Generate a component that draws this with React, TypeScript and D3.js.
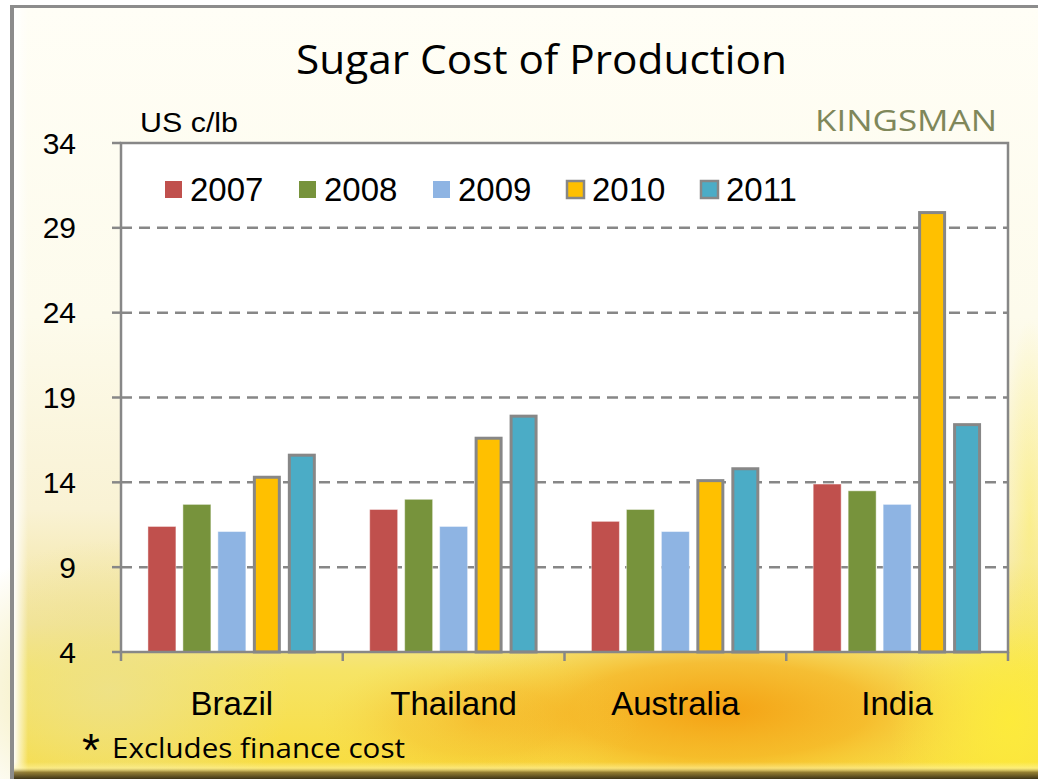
import React from "react";
import * as d3 from "d3";

const categories = ["Brazil", "Thailand", "Australia", "India"];
const years = ["2007", "2008", "2009", "2010", "2011"];
const values2007 = [11.4, 12.4, 11.7, 13.9];
const values2008 = [12.7, 13.0, 12.4, 13.5];
const values2009 = [11.1, 11.4, 11.1, 12.7];
const values2010 = [14.3, 16.6, 14.1, 29.9];
const values2011 = [15.6, 17.9, 14.8, 17.4];
const seriesValues = [values2007, values2008, values2009, values2010, values2011];
const yTicks = [4, 9, 14, 19, 24, 29, 34];

const colors = ["#C0504D", "#77933C", "#8EB4E3", "#FFC000", "#4BACC6"];
const outlined = [false, false, false, true, true];

const W = 1038;
const H = 779;
const plot = { left: 121, right: 1008, top: 143, bottom: 652 };

export default function App() {
  const x = d3.scaleBand<string>().domain(categories).range([plot.left, plot.right]).paddingInner(0).paddingOuter(0);
  const xi = d3
    .scaleBand<string>()
    .domain(years)
    .range([0, x.bandwidth()])
    .paddingInner(0.2)
    .paddingOuter(0.77);
  const y = d3.scaleLinear().domain([4, 34]).range([plot.bottom, plot.top]);

  const gray = "#878787";
  const axisFont = "'Liberation Sans', Arial, sans-serif";

  const boundaries = categories.map((c) => x(c) as number).concat([plot.right]);

  return (
    <svg
      width={W}
      height={H}
      viewBox={`0 0 ${W} ${H}`}
      style={{ position: "absolute", left: 0, top: 0, display: "block" }}
    >
      <defs>
        <linearGradient id="bgv" x1="0" y1="0" x2="0" y2="1">
          <stop offset="0" stopColor="#FFFEF6" />
          <stop offset="0.4" stopColor="#FDFBEC" />
          <stop offset="0.65" stopColor="#F9F2D4" />
          <stop offset="0.8" stopColor="#F3E49C" />
          <stop offset="0.86" stopColor="#F6E466" />
          <stop offset="1" stopColor="#F8DC3C" />
        </linearGradient>
        <radialGradient id="orange" cx="0.5" cy="0.5" r="0.5">
          <stop offset="0" stopColor="#F49E10" stopOpacity="0.95" />
          <stop offset="0.5" stopColor="#F5AE1E" stopOpacity="0.7" />
          <stop offset="1" stopColor="#F8D040" stopOpacity="0" />
        </radialGradient>
        <radialGradient id="paleLeft" cx="0.5" cy="0.5" r="0.5">
          <stop offset="0" stopColor="#EDE18C" stopOpacity="0.85" />
          <stop offset="1" stopColor="#EDE18C" stopOpacity="0" />
        </radialGradient>
        <radialGradient id="brightRight" cx="0.5" cy="0.5" r="0.5">
          <stop offset="0" stopColor="#FDEB3A" stopOpacity="0.95" />
          <stop offset="1" stopColor="#FDEB3A" stopOpacity="0" />
        </radialGradient>
        <linearGradient id="leftBevel" x1="0" y1="0" x2="1" y2="0">
          <stop offset="0" stopColor="#ffffff" stopOpacity="0.95" />
          <stop offset="1" stopColor="#ffffff" stopOpacity="0" />
        </linearGradient>
        <linearGradient id="bottomShadow" x1="0" y1="0" x2="0" y2="1">
          <stop offset="0" stopColor="#FFF6B0" stopOpacity="0" />
          <stop offset="0.35" stopColor="#FFF6B0" stopOpacity="0.5" />
          <stop offset="0.6" stopColor="#8A7430" stopOpacity="0.9" />
          <stop offset="1" stopColor="#3E3418" stopOpacity="1" />
        </linearGradient>
      </defs>

      {/* background */}
      <rect x={0} y={0} width={W} height={H} fill="#ffffff" />
      <rect x={14} y={7} width={W - 14} height={H - 7} fill="url(#bgv)" />
      <ellipse cx={720} cy={710} rx={300} ry={95} fill="url(#orange)" />
      <ellipse cx={480} cy={720} rx={160} ry={70} fill="url(#orange)" opacity={0.45} />
      <ellipse cx={110} cy={690} rx={180} ry={150} fill="url(#paleLeft)" />
      <ellipse cx={1010} cy={720} rx={120} ry={160} fill="url(#brightRight)" />
      <ellipse cx={1030} cy={520} rx={30} ry={200} fill="url(#brightRight)" opacity={0.45} />
      <rect x={14} y={7} width={14} height={H - 7} fill="url(#leftBevel)" />
      <rect x={14} y={762} width={W - 14} height={17} fill="url(#bottomShadow)" />
      {/* frame */}
      <rect x={10} y={5} width={4} height={H - 5} fill="#8C8C8C" />
      <rect x={10} y={5} width={W - 10} height={3} fill="#8C8C8C" />

      {/* title */}
      <text
        x={541.5}
        y={74}
        textAnchor="middle"
        fontFamily="'Open Sans', 'DejaVu Sans', sans-serif"
        fontSize={40}
        textLength={491}
        lengthAdjust="spacingAndGlyphs"
        fill="#000"
      >
        Sugar Cost of Production
      </text>

      {/* KINGSMAN */}
      <text
        x={815}
        y={131}
        fontFamily="'Open Sans', Lato, sans-serif"
        fontSize={29}
        textLength={182}
        lengthAdjust="spacingAndGlyphs"
        fill="#7F875A"
      >
        KINGSMAN
      </text>

      {/* unit */}
      <text x={140} y={132} fontFamily={axisFont} fontSize={27} textLength={98} lengthAdjust="spacingAndGlyphs" fill="#000">
        US c/lb
      </text>

      {/* plot area */}
      <rect x={plot.left} y={plot.top} width={plot.right - plot.left} height={plot.bottom - plot.top} fill="#ffffff" />

      {/* gridlines */}
      {yTicks
        .filter((t) => t !== 4 && t !== 34)
        .map((t) => (
          <line
            key={"g" + t}
            x1={plot.left}
            x2={plot.right}
            y1={y(t)}
            y2={y(t)}
            stroke={gray}
            strokeWidth={2.5}
            strokeDasharray="11 7"
          />
        ))}

      {/* bars */}
      {categories.map((c, ci) => (
        <g key={c} transform={`translate(${x(c)},0)`}>
          {years.map((yr, si) => {
            const v = seriesValues[si][ci];
            const bx = xi(yr) as number;
            const bw = xi.bandwidth();
            const top = y(v);
            return outlined[si] ? (
              <rect
                key={yr}
                x={bx + 1.5}
                y={top}
                width={bw - 3}
                height={plot.bottom - top}
                fill={colors[si]}
                stroke={gray}
                strokeWidth={3}
              />
            ) : (
              <rect
                key={yr}
                x={bx}
                y={top}
                width={bw}
                height={plot.bottom - top}
                fill={colors[si]}
                stroke="#ffffff"
                strokeOpacity={0.45}
                strokeWidth={1}
              />
            );
          })}
        </g>
      ))}

      {/* plot border */}
      <rect
        x={plot.left}
        y={plot.top}
        width={plot.right - plot.left}
        height={plot.bottom - plot.top}
        fill="none"
        stroke={gray}
        strokeWidth={2.5}
      />

      {/* y ticks */}
      {yTicks.map((t) => (
        <g key={"t" + t}>
          <line x1={112} x2={plot.left} y1={y(t)} y2={y(t)} stroke={gray} strokeWidth={2.5} />
          <text
            x={76}
            y={y(t)}
            dy="0.35em"
            textAnchor="end"
            fontFamily={axisFont}
            fontSize={30}
            fill="#000"
          >
            {t}
          </text>
        </g>
      ))}

      {/* x ticks */}
      {boundaries.map((bx, i) => (
        <line key={"xt" + i} x1={bx} x2={bx} y1={plot.bottom} y2={plot.bottom + 9} stroke={gray} strokeWidth={2.5} />
      ))}
      {categories.map((c) => (
        <text
          key={"l" + c}
          x={(x(c) as number) + x.bandwidth() / 2}
          y={715}
          textAnchor="middle"
          fontFamily={axisFont}
          fontSize={33}
          fill="#000"
        >
          {c}
        </text>
      ))}

      {/* legend */}
      {years.map((yr, i) => {
        const lx = 165 + i * 134;
        return (
          <g key={"lg" + yr}>
            <rect
              x={lx}
              y={181}
              width={17}
              height={17}
              fill={colors[i]}
              stroke={outlined[i] ? gray : "none"}
              strokeWidth={outlined[i] ? 2.5 : 0}
            />
            <text x={lx + 25} y={200.5} fontFamily={axisFont} fontSize={33} fill="#000">
              {yr}
            </text>
          </g>
        );
      })}

      {/* footnote */}
      <text x={82} y={766} fontFamily={axisFont} fontSize={46} fill="#000">
        *
      </text>
      <text
        x={112}
        y={758}
        fontFamily="'Open Sans', 'Noto Sans', sans-serif"
        fontSize={28}
        textLength={293}
        lengthAdjust="spacingAndGlyphs"
        fill="#000"
      >
        Excludes finance cost
      </text>
    </svg>
  );
}
